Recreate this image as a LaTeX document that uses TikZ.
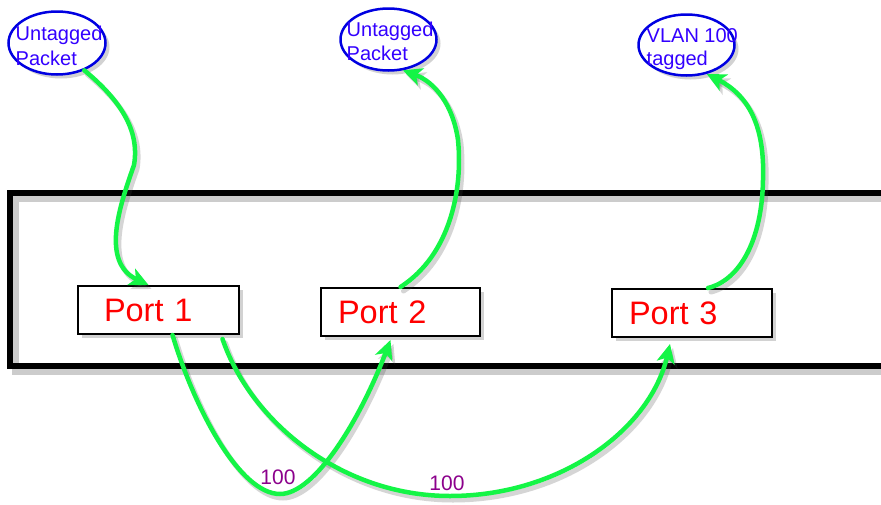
\documentclass[tikz,border=0pt]{standalone}
\usepackage{fontspec}
\setmainfont{Liberation Sans}
\usetikzlibrary{arrows.meta,shapes.geometric,shadows}
\definecolor{pktblue}{RGB}{51,0,255}
\definecolor{ellblue}{RGB}{0,0,225}
\definecolor{lnkgreen}{RGB}{20,245,70}
\definecolor{vlanpurple}{RGB}{140,0,140}
\begin{document}
\begin{tikzpicture}[x=1pt,y=-1pt,
  softshadow/.style={drop shadow={shadow xshift=4pt,shadow yshift=-4pt,opacity=0.25,fill=black!70}},
  pkt/.style={ellipse,draw=ellblue,line width=2.5pt,fill=white,inner sep=0pt,softshadow},
  pkttext/.style={text=pktblue,align=left,inner sep=0pt,anchor=north west},
  portbox/.style={draw=black,line width=2pt,fill=white,minimum height=48pt,text=red,
    font=\fontsize{32.5}{36}\selectfont,align=left,inner ysep=0pt,softshadow},
  tipstyle/.style={-{Stealth[length=19pt,width=18pt,inset=5pt]}},
  link/.style={draw=lnkgreen,line width=4.5pt,line cap=round,tipstyle},
  linkshadow/.style={draw=black!75,opacity=0.22,line width=5pt,line cap=round,tipstyle},
  lbl/.style={text=vlanpurple,font=\fontsize{21}{24}\selectfont,inner sep=0pt}]
\useasboundingbox (0,0) rectangle (881,504);
\fill[white] (0,0) rectangle (881,504);
\clip (0,0) rectangle (881,504);

% switch chassis (open to the right)
\draw[black,opacity=0.2,line width=7pt,transform canvas={xshift=5pt,yshift=-5pt}]
  (900,193) -- (10,193) -- (10,366) -- (900,366);
\draw[black,line width=6pt] (900,193) -- (10,193) -- (10,366) -- (900,366);

% packets
\node[pkt,minimum width=97pt,minimum height=63pt] (e1) at (57,43) {};
\node[pkt,minimum width=96pt,minimum height=62pt] (e2) at (388.5,39.5) {};
\node[pkt,minimum width=96pt,minimum height=61pt] (e3) at (686.5,45) {};
\node[pkttext,font=\fontsize{20}{25}\selectfont] (t1) at (15.5,26) {Untagged\\Packet};
\node[pkttext,font=\fontsize{20}{23.5}\selectfont] (t2) at (346.5,22) {Untagged\\Packet};
\node[pkttext,font=\fontsize{20}{23.5}\selectfont] (t3) at (646.5,28) {VLAN 100\\tagged};

% ports
\node[portbox,inner xsep=26pt,text width=109pt] (p1) at (158.5,310) {Port 1};
\node[portbox,inner xsep=17pt,text width=125pt] (p2) at (400.5,312) {Port 2};
\node[portbox,inner xsep=17pt,text width=126pt] (p3) at (692,313) {Port 3};

% link paths
\def\linkA{(e1.315) .. controls (120,100) and (140,130) .. (134,165)
  .. controls (120,205) and (100,262) .. ([xshift=-10pt]p1.north)}
\def\linkB{(p2.north) .. controls (450,255) and (463,190) .. (458,140)
  .. controls (453,105) and (435,82) .. (e2.295)}
\def\linkC{([xshift=16pt]p3.north) .. controls (740,280) and (762,240) .. (763,180)
  .. controls (765,125) and (748,95) .. (e3.305)}
\def\linkD{([xshift=14pt]p1.south) .. controls (195,410) and (240,494) .. (280,494)
  .. controls (315,494) and (360,420) .. ([xshift=-10pt,yshift=-3pt]p2.south)}
\def\linkE{([xshift=64pt,yshift=-4pt]p1.south) .. controls (250,420) and (340,496) .. (450,496)
  .. controls (560,496) and (650,430) .. ([xshift=-22pt,yshift=-6pt]p3.south)}

% link shadows
\begin{scope}[transform canvas={xshift=3pt,yshift=-4pt}]
  \draw[linkshadow] \linkA;
  \draw[linkshadow] \linkB;
  \draw[linkshadow] \linkC;
  \draw[linkshadow] \linkD;
  \draw[linkshadow] \linkE;
\end{scope}

% links
\draw[link] \linkA;
\draw[link] \linkB;
\draw[link] \linkC;
\draw[link] \linkD;
\draw[link] \linkE;

% VLAN labels
\node[lbl] (l1) at (278,477) {100};
\node[lbl] (l2) at (447,483) {100};
\end{tikzpicture}
\end{document}
